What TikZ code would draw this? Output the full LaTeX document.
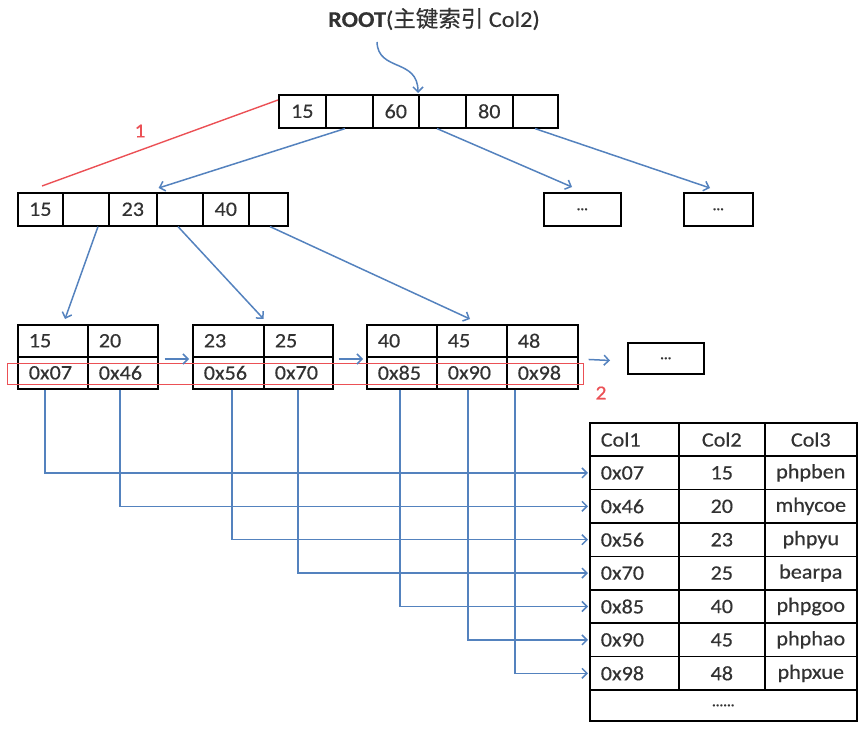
\documentclass[tikz,border=0pt]{standalone}
\usepackage{fontspec}
\setmainfont[FakeStretch=1.08,FakeBold=0.4]{Carlito}
\newfontfamily\cjk[FakeBold=0.4]{Noto Sans CJK SC}
\usetikzlibrary{arrows.meta}
\definecolor{txtc}{RGB}{50,50,50}
\definecolor{bluec}{RGB}{84,130,190}
\definecolor{redc}{RGB}{235,80,85}
\begin{document}
\begin{tikzpicture}[x=1pt,y=-1pt,
  cellc/.style={draw=black, line width=1.6pt, minimum height=33, inner sep=0, anchor=north west, text=txtc, font=\fontsize{20.5}{23}\selectfont},
  cellL/.style={cellc, align=left, inner xsep=11pt, text width=#1},
  dotbox/.style={draw=black, line width=1.6pt, inner sep=0, anchor=north west, text=txtc, font=\fontsize{13}{14}\selectfont\bfseries},
  conn/.style={draw=bluec, line width=1.5pt, -{Straight Barb[length=5pt,width=10pt]}},
  redtxt/.style={text=redc, font=\fontsize{20}{22}\selectfont}
]
\useasboundingbox (0,0) rectangle (864,730);

% root label and curved arrow
\node[text=txtc, font=\fontsize{22.5}{25}\selectfont] (root) at (434,19) {\textbf{ROOT}({\cjk 主键索引} Col2)};
\coordinate (rootarr) at (377,42);

% root node
\node[cellc, minimum width=47] (r1) at (278,94) {15};
\node[cellc, minimum width=47] (r2) at (325,94) {};
\node[cellc, minimum width=46] (r3) at (372,94) {60};
\node[cellc, minimum width=47] (r4) at (418,94) {};
\node[cellc, minimum width=47] (r5) at (465,94) {80};
\node[cellc, minimum width=45] (r6) at (512,94) {};

% level 2
\node[cellc, minimum width=45] (a1) at (17,192) {15};
\node[cellc, minimum width=46] (a2) at (62,192) {};
\node[cellc, minimum width=48] (a3) at (108,192) {23};
\node[cellc, minimum width=46] (a4) at (156,192) {};
\node[cellc, minimum width=46] (a5) at (202,192) {40};
\node[cellc, minimum width=39] (a6) at (248,192) {};

\node[dotbox, minimum width=77, minimum height=33] (d1) at (543,192) {...};
\node[dotbox, minimum width=69, minimum height=33] (d2) at (683,192) {...};

% leaves
\node[cellL=48, minimum height=32] (p11) at (17,324) {15};
\node[cellL=48, minimum height=32] (p12) at (87,324) {20};
\node[cellL=48, minimum height=32] (q11) at (17,356) {0x07};
\node[cellL=48, minimum height=32] (q12) at (87,356) {0x46};

\node[cellL=49, minimum height=32] (p21) at (192,324) {23};
\node[cellL=47, minimum height=32] (p22) at (263,324) {25};
\node[cellL=49, minimum height=32] (q21) at (192,356) {0x56};
\node[cellL=47, minimum height=32] (q22) at (263,356) {0x70};

\node[cellL=48, minimum height=32] (p31) at (366,324) {40};
\node[cellL=48, minimum height=32] (p32) at (436,324) {45};
\node[cellL=49, minimum height=32] (p33) at (506,324) {48};
\node[cellL=48, minimum height=32] (q31) at (366,356) {0x85};
\node[cellL=48, minimum height=32] (q32) at (436,356) {0x90};
\node[cellL=49, minimum height=32] (q33) at (506,356) {0x98};

\node[dotbox, minimum width=76, minimum height=31] (d3) at (627,342) {...};

% red highlight
\node[draw=redc, line width=1.4pt, minimum width=576, minimum height=21, inner sep=0, anchor=north west] (hl) at (7,363) {};
\node[redtxt] (lab1) at (140,131) {1};
\node[redtxt] (lab2) at (601,393) {2};
\draw[redc, line width=1.4pt] ([xshift=25pt,yshift=6pt]a1.north west) -- ([yshift=-6pt]r1.north west);

% table
\foreach [count=\i] \a/\b/\c in {Col1/Col2/Col3, 0x07/15/phpben, 0x46/20/mhycoe, 0x56/23/phpyu, 0x70/25/bearpa, 0x85/40/phpgoo, 0x90/45/phphao, 0x98/48/phpxue} {
  \pgfmathsetmacro\yy{422+33.4*(\i-1)}
  \node[cellL=67, minimum height=33.4] (t\i-a) at (589,\yy) {\a};
  \node[cellc, minimum width=86, minimum height=33.4] (t\i-b) at (678,\yy) {\b};
  \node[cellc, minimum width=92, minimum height=33.4] (t\i-c) at (764,\yy) {\c};
}
\node[dotbox, minimum width=267, minimum height=30.8] (tend) at (589,689.2) {......};

% tree arrows
\draw[conn] (rootarr) .. controls (378,72) and (418,58) .. ([yshift=1pt]r4.north west);
\draw[conn] ([xshift=20pt]r2.south west) -- ([xshift=1pt,yshift=4pt]a3.north east);
\draw[conn] ([xshift=19pt]r4.south west) -- ([xshift=29pt,yshift=5pt]d1.north west);
\draw[conn] ([xshift=23pt]r6.south west) -- ([xshift=27pt,yshift=4pt]d2.north west);
\draw[conn] ([xshift=36pt]a2.south west) -- ([xshift=48pt,yshift=5pt]p11.north west);
\draw[conn] ([xshift=22pt]a4.south west) -- ([xshift=-1pt,yshift=5pt]p21.north east);
\draw[conn] ([xshift=22pt]a6.south west) -- ([xshift=34pt,yshift=5pt]p32.north west);

% leaf links
\draw[conn, shorten <=6pt, shorten >=3pt] ([yshift=-3pt]q12.north east) -- ([yshift=-3pt]q21.north west);
\draw[conn, shorten <=5pt, shorten >=3pt] ([yshift=-3pt]q22.north east) -- ([yshift=-3pt]q31.north west);
\draw[conn, shorten <=10pt, shorten >=17pt] ([yshift=-3pt]q33.north east) -- ([yshift=-3pt]d3.west);

% pointers to table rows
\draw[conn, shorten >=1pt] ([xshift=28pt]q11.south west) |- (t2-a.west);
\draw[conn, shorten >=1pt] ([xshift=33pt]q12.south west) |- (t3-a.west);
\draw[conn, shorten >=1pt] ([xshift=40pt]q21.south west) |- (t4-a.west);
\draw[conn, shorten >=1pt] ([xshift=35pt]q22.south west) |- (t5-a.west);
\draw[conn, shorten >=1pt] ([xshift=34pt]q31.south west) |- (t6-a.west);
\draw[conn, shorten >=1pt] ([xshift=32pt]q32.south west) |- (t7-a.west);
\draw[conn, shorten >=1pt] ([xshift=9pt]q33.south west) |- (t8-a.west);
\end{tikzpicture}
\end{document}
